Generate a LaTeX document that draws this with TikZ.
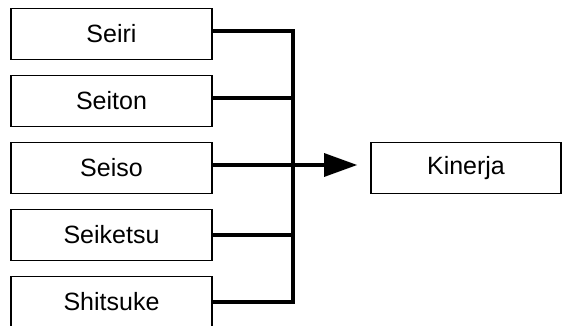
\documentclass[tikz,border=0pt]{standalone}
\usepackage{fontspec}
\setmainfont{Liberation Sans}
\usetikzlibrary{arrows.meta}
\tikzset{%
  >=latex,
  sbox/.style={draw,line width=1.6pt,minimum width=201pt,minimum height=51pt,
    inner sep=0pt,font=\fontsize{25}{30}\selectfont},
  conn/.style={line width=3.2pt}
}
\begin{document}
\begin{tikzpicture}[x=1pt,y=-1pt]
\useasboundingbox (0,0) rectangle (562,326);

% the five S
\node[sbox] (seiri) at (111.5,34) {Seiri};
\node[sbox] (seiton) at (111.5,101) {Seiton};
\node[sbox] (seiso) at (111.5,168) {Seiso};
\node[sbox] (seiketsu) at (111.5,235) {Seiketsu};
\node[sbox] (shitsuke) at (111.5,302) {Shitsuke};

\node[sbox,minimum width=190pt] (kinerja) at (466,168) {Kinerja};

\coordinate (bus) at (293,168);

\foreach \n/\dy in {seiri/3,seiton/3,seiketsu/0,shitsuke/0}
  \draw[conn] ([yshift=\dy pt]\n.east) -- ([yshift=\dy pt]\n.east -| bus);
\draw[conn,line cap=rect] ([yshift=3pt]seiri.east -| bus) -- (shitsuke.east -| bus);
\draw[conn,-{Triangle[length=33pt,width=23pt]},shorten >=13pt] ([yshift=3pt]seiso.east) -- ([yshift=3pt]kinerja.west);
\end{tikzpicture}
\end{document}
